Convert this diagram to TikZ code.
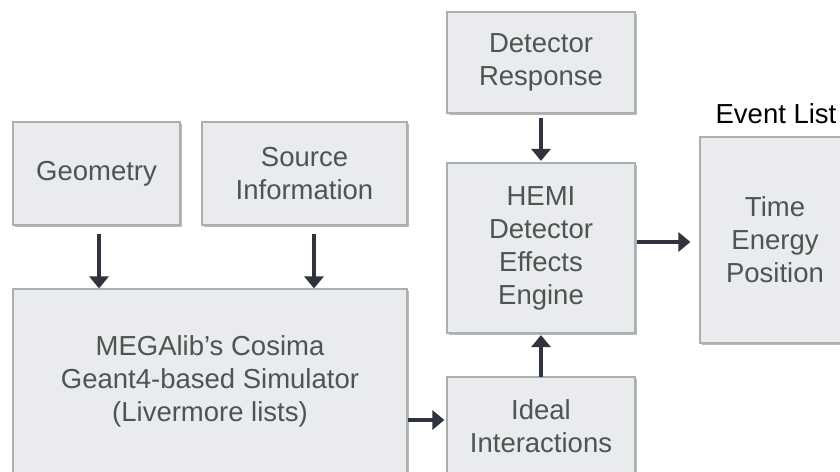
\documentclass[tikz,border=0pt]{standalone}
\usepackage{fontspec}
\setmainfont{Liberation Sans}
\usetikzlibrary{arrows.meta,shadows}
\definecolor{boxfill}{HTML}{E9EBEF}
\definecolor{boxline}{HTML}{A8B2AB}
\definecolor{boxtext}{HTML}{4A5650}
\definecolor{arrowcol}{HTML}{30323D}
\begin{document}
\begin{tikzpicture}[x=1pt,y=-1pt,
  blockbox/.style={draw=boxline, line width=1.2pt, fill=boxfill, inner sep=0pt,
    text=boxtext, align=center,
    font=\fontsize{27.5}{33}\selectfont,
    drop shadow={shadow xshift=2.2pt, shadow yshift=-2.2pt, opacity=0.45, fill=gray!80!black}},
  flow/.style={draw=arrowcol, line width=3.8pt, -{Triangle[width=19pt,length=12pt]}}
]
\useasboundingbox (0,0) rectangle (840,471);

\node[blockbox, minimum width=167pt, minimum height=103pt] (geo) at (96.5,173.5) {Geometry};
\node[blockbox, minimum width=205pt, minimum height=103pt] (src) at (304.5,173.5) {Source\\Information};
\node[blockbox, minimum width=394pt, minimum height=184pt] (mega) at (210,381) {MEGAlib’s Cosima\\Geant4-based Simulator\\(Livermore lists)};
\node[blockbox, minimum width=188pt, minimum height=101pt] (resp) at (541,62.5) {Detector\\Response};
\node[blockbox, minimum width=188pt, minimum height=170pt] (hemi) at (541,248) {HEMI\\Detector\\Effects\\Engine};
\node[blockbox, minimum width=188pt, minimum height=98pt] (ideal) at (541,426) {Ideal\\Interactions};
\node[blockbox, minimum width=150pt, minimum height=206pt] (event) at (775,240) {Time\\Energy\\Position};
\node[font=\fontsize{27.5}{33}\selectfont, text=black, anchor=base] (evlabel) at (776,123) {Event List};

\coordinate (gs) at ([xshift=2.5pt,yshift=-8pt]geo.south);
\coordinate (ss) at ([xshift=9.5pt,yshift=-8pt]src.south);
\coordinate (mo) at ([xshift=0.5pt,yshift=-39pt]mega.east);
\coordinate (ho) at ([xshift=1pt,yshift=6pt]hemi.east);

\draw[flow] (gs) -- (gs |- mega.north);
\draw[flow] (ss) -- (ss |- mega.north);
\draw[flow] ([yshift=-4pt]resp.south) -- ([yshift=1.5pt]hemi.north);
\draw[flow] ([yshift=-0.5pt]ideal.north) -- ([yshift=-1.5pt]hemi.south);
\draw[flow, shorten >=2pt] (mo) -- (mo -| ideal.west);
\draw[flow, shorten >=9pt] (ho) -- (ho -| event.west);
\end{tikzpicture}
\end{document}
